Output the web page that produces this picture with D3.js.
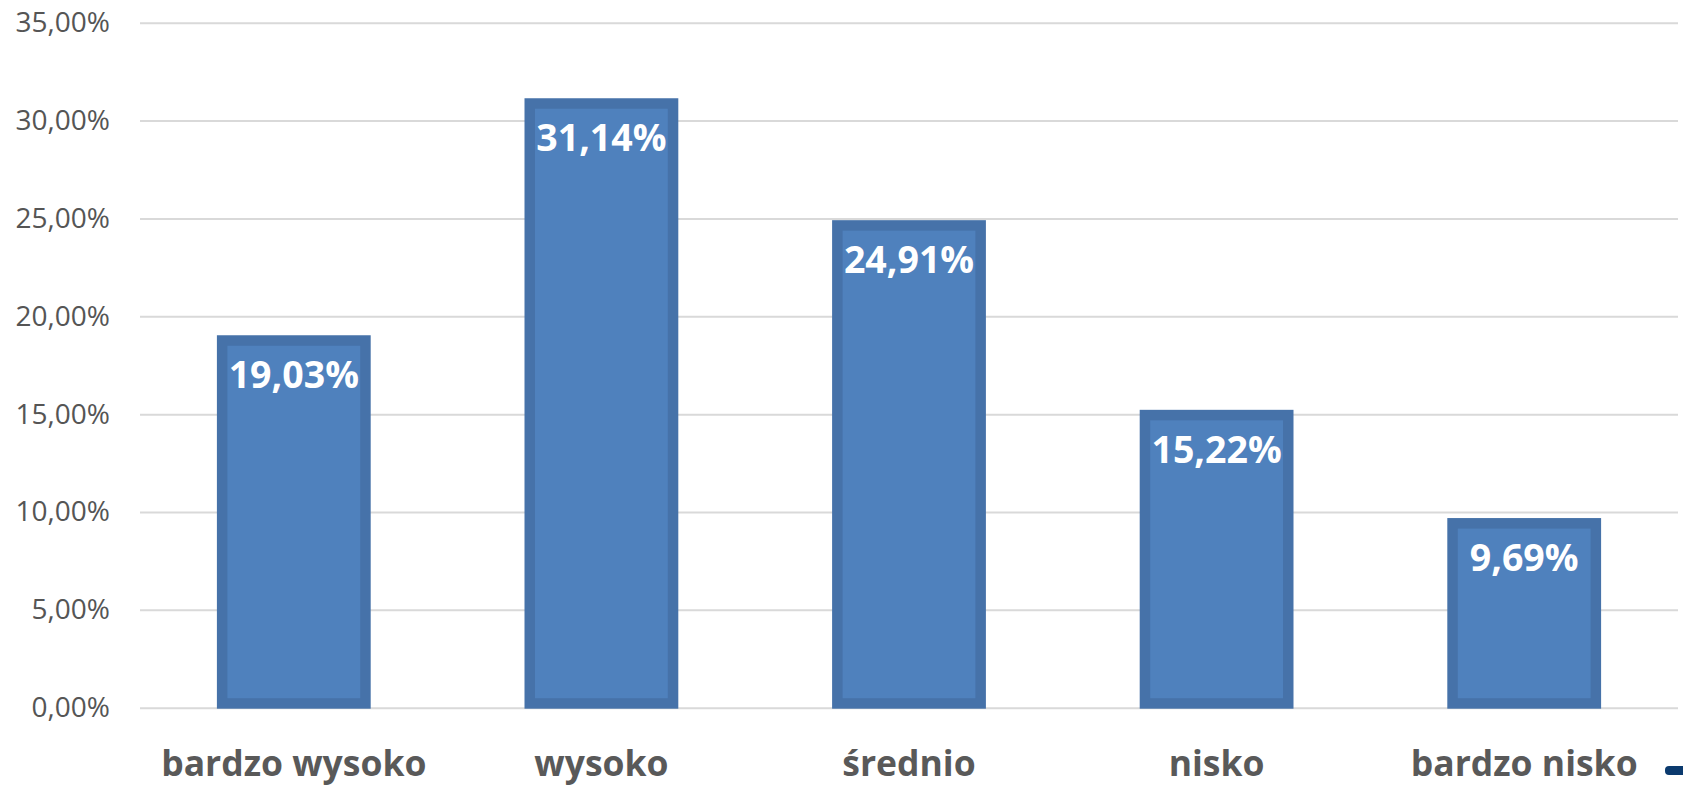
<!DOCTYPE html>
<html>
<head>
<meta charset="utf-8">
<script src="https://cdn.jsdelivr.net/npm/d3@7"></script>
<style>
  body { margin: 0; background: #fff; }
  svg { display: block; }
</style>
</head>
<body>
<svg id="chart" width="1683" height="785"></svg>
<script>
const categories = ["bardzo wysoko", "wysoko", "średnio", "nisko", "bardzo nisko"];
const values = [19.03, 31.14, 24.91, 15.22, 9.69];
const yTicks = [0, 5, 10, 15, 20, 25, 30, 35];

const width = 1683, height = 785;
const margin = { top: 22.7, right: 5, bottom: 77.3, left: 140 };
const plotW = width - margin.left - margin.right;
const plotH = height - margin.top - margin.bottom;

const fmt = v => v.toFixed(2).replace(".", ",") + "%";

const svg = d3.select("#chart");
const g = svg.append("g").attr("transform", `translate(${margin.left},${margin.top})`);

const x = d3.scaleBand()
  .domain(categories)
  .range([0, plotW])
  .paddingInner(0.5)
  .paddingOuter(0.25);

const y = d3.scaleLinear()
  .domain([0, 35])
  .range([plotH, 0]);

// grid lines + y labels
const yAxis = d3.axisLeft(y)
  .tickValues(yTicks)
  .tickSize(-plotW)
  .tickPadding(30)
  .tickFormat(fmt);

g.append("g")
  .call(yAxis)
  .call(s => s.select(".domain").remove())
  .call(s => s.selectAll("line").attr("stroke", "#d9d9d9").attr("stroke-width", 2))
  .call(s => s.selectAll("text")
    .attr("fill", "#555")
    .attr("font-family", "'Open Sans', sans-serif")
    .attr("font-size", 28));

// x labels
const xAxis = d3.axisBottom(x).tickSize(0).tickPadding(0);
g.append("g")
  .attr("transform", `translate(0,${plotH})`)
  .call(xAxis)
  .call(s => s.select(".domain").remove())
  .call(s => s.selectAll("text")
    .attr("y", 68)
    .attr("dy", null)
    .attr("fill", "#595959")
    .attr("font-family", "'Open Sans', sans-serif")
    .attr("font-weight", "bold")
    .attr("font-size", 35.5));

// bars
const border = 10.5;
const bars = g.selectAll(".bar")
  .data(values)
  .join("g")
  .attr("class", "bar");

bars.append("rect")
  .attr("x", (d, i) => x(categories[i]))
  .attr("y", d => y(d))
  .attr("width", x.bandwidth())
  .attr("height", d => plotH - y(d) + 1)
  .attr("fill", "#4672a9");

bars.append("rect")
  .attr("x", (d, i) => x(categories[i]) + border)
  .attr("y", d => y(d) + border)
  .attr("width", x.bandwidth() - 2 * border)
  .attr("height", d => plotH - y(d) - 2 * border + 1)
  .attr("fill", "#4f81bd");

bars.append("text")
  .attr("x", (d, i) => x(categories[i]) + x.bandwidth() / 2)
  .attr("y", d => y(d) + 53)
  .attr("text-anchor", "middle")
  .attr("fill", "#fff")
  .attr("font-family", "'Open Sans', sans-serif")
  .attr("font-weight", "bold")
  .attr("font-size", 37.5)
  .text(d => fmt(d));

// small navy piece in the bottom-right corner
svg.append("rect")
  .attr("x", 1665)
  .attr("y", 766)
  .attr("width", 30)
  .attr("height", 9)
  .attr("rx", 4)
  .attr("fill", "#0b3a6e");
</script>
</body>
</html>
